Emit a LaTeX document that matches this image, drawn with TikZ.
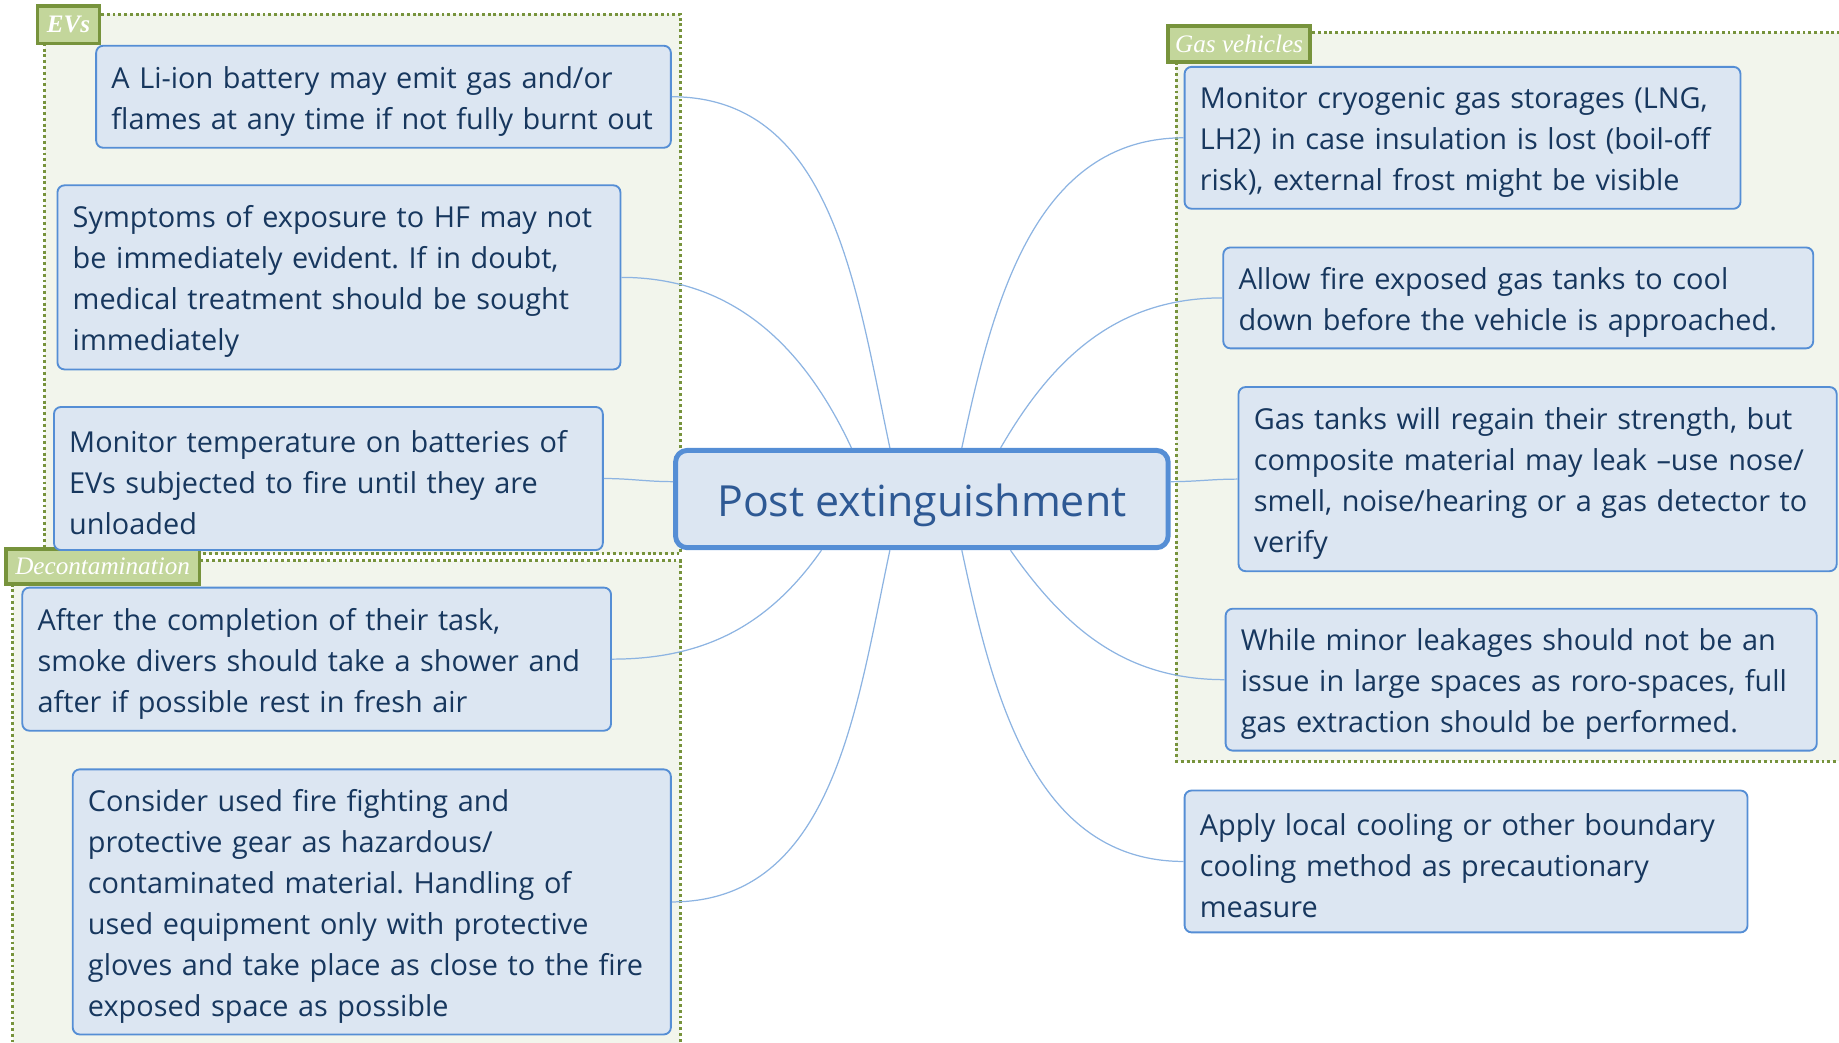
\documentclass[tikz,border=0pt]{standalone}
\usepackage{fontspec}
\setmainfont{Open Sans}
\newfontfamily\tagfont{Liberation Serif}
\usepackage{tikz}
\frenchspacing

\definecolor{leafblue}{RGB}{220,230,242}
\definecolor{edgeblue}{RGB}{85,142,213}
\definecolor{linkblue}{RGB}{141,180,226}
\definecolor{inkblue}{RGB}{23,55,94}
\definecolor{rootink}{RGB}{46,89,148}
\definecolor{groupfill}{RGB}{242,245,236}
\definecolor{groupline}{RGB}{119,147,60}
\definecolor{tagfill}{RGB}{195,214,155}

\tikzset{
    leaf/.style={shape=rectangle, rounded corners=0.12cm, draw=edgeblue, line width=0.9pt, fill=leafblue, text=inkblue, font=\fontsize{14.0}{19.9}\selectfont, align=left, text width=#1, inner xsep=0.26cm, inner ysep=0.1cm, execute at begin node={\rule{0pt}{15pt}}},
    root/.style={shape=rectangle, rounded corners=0.2cm, draw=edgeblue, line width=2.4pt, fill=leafblue, text=rootink, font=\fontsize{20.8}{24}\selectfont, text height=0.7cm, text depth=0.12cm, minimum width=8.4cm, minimum height=1.66cm},
    group/.style={draw=groupline, line width=1.4pt, dash pattern=on 1.4pt off 1.4pt, fill=groupfill},
    tag/.style={shape=rectangle, draw=groupline, line width=1.7pt, fill=tagfill, text=white, font=\tagfont\itshape\fontsize{12.2}{14}\selectfont, inner sep=0pt},
    link/.style={draw=linkblue, line width=0.6pt}
}

\begin{document}
\begin{tikzpicture}
        \useasboundingbox (0,0) rectangle (31.36,-17.78);
        \clip (0,0) rectangle (31.36,-17.78);

        \draw[group] (0.76,-0.24) rectangle (11.6,-9.44);
        \draw[group] (0.22,-9.56) rectangle (11.6,-18.5);
        \draw[group] (20.06,-0.56) rectangle (31.8,-12.98);

        \node[tag, minimum width=1.06cm, minimum height=0.64cm] (evs) at (1.17,-0.42) {\bfseries EVs};
        \node[tag, minimum width=3.3cm, minimum height=0.6cm] (decon) at (1.75,-9.66) {Decontamination};
        \node[tag, minimum width=2.42cm, minimum height=0.62cm] (gas) at (21.13,-0.75) {Gas vehicles};

        \node[root] (post) at (15.72,-8.51) {Post extinguishment};

        \node[leaf=9.28cm, minimum height=1.74cm] (l1) at (6.54,-1.65) {A Li-ion battery may emit gas and/or\\flames at any time if not fully burnt out};
        \node[leaf=9.08cm, minimum height=3.14cm] (l2) at (5.78,-4.73) {Symptoms of exposure to HF may not\\be immediately evident. If in doubt,\\medical treatment should be sought\\immediately};
        \node[leaf=8.84cm, minimum height=2.44cm] (l3) at (5.60,-8.16) {Monitor temperature on batteries of\\EVs subjected to fire until they are\\unloaded};
        \node[leaf=9.52cm, minimum height=2.44cm] (l4) at (5.40,-11.24) {After the completion of their task,\\smoke divers should take a shower and\\after if possible rest in fresh air};
        \node[leaf=9.68cm, minimum height=4.52cm] (l5) at (6.34,-15.38) {Consider used fire fighting and\\protective gear as hazardous/\\contaminated material. Handling of\\used equipment only with protective\\gloves and take place as close to the fire\\exposed space as possible};

        \node[leaf=8.96cm, minimum height=2.42cm] (r1) at (24.94,-2.35) {Monitor cryogenic gas storages (LNG,\\LH2) in case insulation is lost (boil-off\\risk), external frost might be visible};
        \node[leaf=9.54cm, minimum height=1.72cm] (r2) at (25.89,-5.08) {Allow fire exposed gas tanks to cool\\down before the vehicle is approached.};
        \node[leaf=9.68cm, minimum height=3.14cm] (r3) at (26.22,-8.17) {Gas tanks will regain their strength, but\\composite material may leak –use nose/\\smell, noise/hearing or a gas detector to\\verify};
        \node[leaf=9.56cm, minimum height=2.42cm] (r4) at (25.94,-11.59) {While minor leakages should not be an\\issue in large spaces as roro-spaces, full\\gas extraction should be performed.};
        \node[leaf=9.08cm, minimum height=2.42cm] (r5) at (25.00,-14.69) {Apply local cooling or other boundary\\cooling method as precautionary\\measure};

        \path [link](post.122) edge[out=102,in=0] (l1.east);
        \path [link](post.144) edge[out=115,in=0] (l2.east);
        \path [link](post.176) edge[out=180,in=0] (l3.east);
        \path [link](post.207) edge[out=235,in=0] (l4.east);
        \path [link](post.238) edge[out=258,in=0] (l5.east);
        \path [link](post.52) edge[out=78,in=180] (r1.west);
        \path [link](post.33) edge[out=60,in=180] (r2.west);
        \path [link](post.4) edge[out=0,in=180] (r3.west);
        \path [link](post.-30) edge[out=-55,in=180] (r4.west);
        \path [link](post.-52) edge[out=-78,in=180] (r5.west);
    \end{tikzpicture}
\end{document}
